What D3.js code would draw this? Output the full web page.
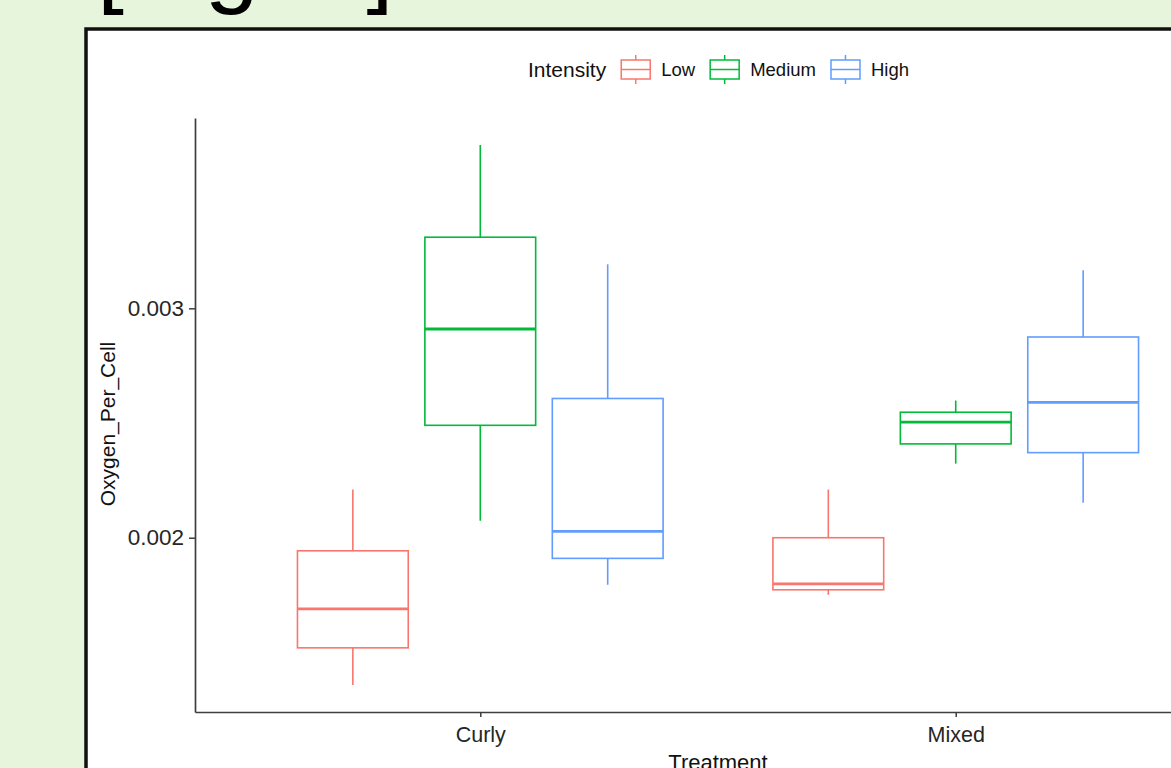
<!DOCTYPE html>
<html>
<head>
<meta charset="utf-8">
<script src="https://cdn.jsdelivr.net/npm/d3@7"></script>
<style>
  html, body { margin: 0; padding: 0; background: #e7f5dc; overflow: hidden; }
  svg { display: block; font-family: "Liberation Sans", Arial, sans-serif; }
</style>
</head>
<body>
<svg id="chart" width="1171" height="768"></svg>
<script>
// Treatment groups on the x axis and intensity levels used for dodging / colour
const treatments = ["Curly", "Mixed"];
const intensities = ["Low", "Medium", "High"];

// Five-number summaries per treatment: [lower whisker, Q1, median, Q3, upper whisker]
const lowStats    = [[0.001358, 0.001520, 0.001690, 0.001943, 0.002210],
                     [0.001751, 0.001773, 0.001799, 0.002000, 0.002210]];
const mediumStats = [[0.002074, 0.002490, 0.002910, 0.003310, 0.003712],
                     [0.002323, 0.002409, 0.002504, 0.002547, 0.002598]];
const highStats   = [[0.001795, 0.001910, 0.002028, 0.002607, 0.003192],
                     [0.002153, 0.002371, 0.002590, 0.002875, 0.003166]];

const yTicks = [0.002, 0.003];
const yTickLabels = ["0.002", "0.003"];

const palette = ["#F8766D", "#00BA38", "#619CFF"];
const seriesStats = [lowStats, mediumStats, highStats];

const svg = d3.select("#chart");

// Slide title above the figure panel
svg.append("text")
  .attr("x", 97).attr("y", -5)
  .attr("font-size", 97)
  .attr("fill", "#000")
  .text("[Fig. 1]");

// Figure panel
svg.append("rect")
  .attr("x", 86).attr("y", 29)
  .attr("width", 1200).attr("height", 800)
  .attr("fill", "#fff")
  .attr("stroke", "#111")
  .attr("stroke-width", 3.5);

// Scales
const allVals = seriesStats.flat(2);
const lo = d3.min(allVals), hi = d3.max(allVals);
const pad = (hi - lo) * 0.05;
const y = d3.scaleLinear().domain([lo - pad, hi + pad]).range([712, 118]);
const x = d3.scaleLinear().domain([-0.6, treatments.length - 1 + 0.6]).range([195, 1241]);

const slot = 0.268;      // dodge spacing between intensity groups (x units)
const boxW = 0.233;      // box width (x units)

// Axes
const axisColor = "#3f3f3f";
const gY = svg.append("g").attr("transform", "translate(195,0)")
  .call(d3.axisLeft(y).tickValues(yTicks).tickFormat((d, i) => yTickLabels[i])
    .tickSizeInner(6).tickSizeOuter(0).tickPadding(5));
const gX = svg.append("g").attr("transform", "translate(0,712)")
  .call(d3.axisBottom(x).tickValues(treatments.map((d, i) => i)).tickFormat(i => treatments[i])
    .tickSizeInner(5).tickSizeOuter(0).tickPadding(6));

[gY, gX].forEach(g => {
  g.select(".domain").attr("stroke", axisColor).attr("stroke-width", 1.7);
  g.selectAll(".tick line").attr("stroke", axisColor).attr("stroke-width", 1.5);
  g.selectAll(".tick text").attr("fill", "#262626").attr("font-size", 21.5)
    .attr("font-family", "'Liberation Sans', Arial, sans-serif");
});
gY.selectAll(".tick text").attr("font-size", 22.5);
gX.selectAll(".tick text").attr("dy", "0.9em");

// Axis titles
svg.append("text")
  .attr("transform", "translate(115,424) rotate(-90)")
  .attr("text-anchor", "middle")
  .attr("font-size", 21)
  .attr("fill", "#111")
  .text("Oxygen_Per_Cell");

svg.append("text")
  .attr("x", 718).attr("y", 770)
  .attr("text-anchor", "middle")
  .attr("font-size", 22)
  .attr("fill", "#111")
  .text("Treatment");

// Boxplots
const plot = svg.append("g");
seriesStats.forEach((stats, s) => {
  const col = palette[s];
  stats.forEach((st, t) => {
    const cx = t + (s - 1) * slot;
    const xl = x(cx - boxW / 2), xr = x(cx + boxW / 2), xc = x(cx);
    const [wLo, q1, med, q3, wHi] = st;
    const g = plot.append("g").attr("stroke", col).attr("fill", "none");
    g.append("line").attr("x1", xc).attr("x2", xc).attr("y1", y(q3)).attr("y2", y(wHi)).attr("stroke-width", 1.6);
    g.append("line").attr("x1", xc).attr("x2", xc).attr("y1", y(q1)).attr("y2", y(wLo)).attr("stroke-width", 1.6);
    g.append("rect").attr("x", xl).attr("y", y(q3))
      .attr("width", xr - xl).attr("height", y(q1) - y(q3))
      .attr("fill", "#fff").attr("stroke-width", 1.6);
    g.append("line").attr("x1", xl).attr("x2", xr).attr("y1", y(med)).attr("y2", y(med)).attr("stroke-width", 2.8);
  });
});

// Legend
const legend = svg.append("g").attr("transform", "translate(528,70)");
let lx = 0;
const title = legend.append("text").attr("x", lx).attr("dy", "0.35em")
  .attr("font-size", 21).attr("fill", "#111").text("Intensity");
lx += title.node().getComputedTextLength() + 15;
intensities.forEach((name, i) => {
  const col = palette[i];
  const k = legend.append("g").attr("transform", `translate(${lx},0)`).attr("stroke", col).attr("fill", "none").attr("stroke-width", 1.5);
  const kw = 29;
  k.append("line").attr("x1", kw / 2).attr("x2", kw / 2).attr("y1", -15).attr("y2", -10);
  k.append("line").attr("x1", kw / 2).attr("x2", kw / 2).attr("y1", 9).attr("y2", 14);
  k.append("rect").attr("x", 0).attr("y", -10).attr("width", kw).attr("height", 19).attr("fill", "#fff");
  k.append("line").attr("x1", 0).attr("x2", kw).attr("y1", -0.5).attr("y2", -0.5);
  lx += kw + 11;
  const t = legend.append("text").attr("x", lx).attr("dy", "0.35em")
    .attr("font-size", 18.5).attr("fill", "#111").text(name);
  lx += t.node().getComputedTextLength() + 15;
});
</script>
</body>
</html>
